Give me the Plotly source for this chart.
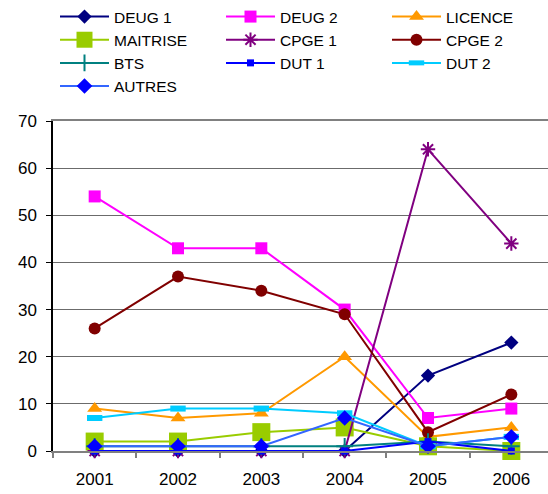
import plotly.graph_objects as go

years = ["2001", "2002", "2003", "2004", "2005", "2006"]

deug1 = [0, 0, 0, 0, 16, 23]
deug2 = [54, 43, 43, 30, 7, 9]
licence = [9, 7, 8, 20, 3, 5]
maitrise = [2, 2, 4, 5, 1, 0]
cpge1 = [0, 0, 0, 0, 64, 44]
cpge2 = [26, 37, 34, 29, 4, 12]
bts = [1, 1, 1, 1, 2, 1]
dut1 = [0, 0, 0, 0, 2, 0]
dut2 = [7, 9, 9, 8, 1, 3]
autres = [1, 1, 1, 7, 1, 3]

y_ticks = [0, 10, 20, 30, 40, 50, 60, 70]

# name, values, line colour, marker symbol, marker colour, marker size, marker outline width
series = [
    ("DEUG 1", deug1, "#000080", "diamond", "#000080", 11, 0),
    ("DEUG 2", deug2, "#FF00FF", "square", "#FF00FF", 12, 0),
    ("LICENCE", licence, "#FF9900", "triangle-up", "#FF9900", 13, 0),
    ("MAITRISE", maitrise, "#99CC00", "square", "#99CC00", 18, 0),
    ("CPGE 1", cpge1, "#800080", "asterisk-open", "#800080", 12, 2),
    ("CPGE 2", cpge2, "#800000", "circle", "#800000", 12, 0),
    ("BTS", bts, "#008080", "cross-thin-open", "#008080", 12, 2),
    ("DUT 1", dut1, "#0000FF", "square", "#0000FF", 7, 0),
    ("DUT 2", dut2, "#00CCFF", "line-ew-open", "#00CCFF", 11, 6),
    ("AUTRES", autres, "#3366FF", "diamond", "#0000FF", 12, 0),
]

fig = go.Figure()
for name, vals, lcol, sym, mcol, msize, mlw in series:
    marker = dict(symbol=sym, color=mcol, size=msize)
    if mlw:
        marker["line"] = dict(color=mcol, width=mlw)
    else:
        marker["line"] = dict(width=0)
    fig.add_trace(go.Scatter(
        x=years, y=vals, name=name, mode="lines+markers",
        line=dict(color=lcol, width=2),
        marker=marker,
        cliponaxis=False,
    ))

fig.update_layout(
    width=548, height=494,
    margin=dict(l=53, r=0, t=121, b=43),
    paper_bgcolor="white", plot_bgcolor="white",
    font=dict(family="Liberation Sans, Arial, sans-serif", color="black"),
    showlegend=True,
    legend=dict(
        orientation="h", xref="container", yref="container",
        x=55 / 548, y=1.0, xanchor="left", yanchor="top",
        entrywidth=102, entrywidthmode="pixels",
        itemwidth=49, traceorder="normal",
        font=dict(size=15.5, color="black"),
        bgcolor="rgba(0,0,0,0)",
        borderwidth=0,
        tracegroupgap=0,
    ),
    xaxis=dict(
        type="category", range=[-0.5, 5.44],
        showgrid=False, showline=True, linecolor="#808080", linewidth=2,
        mirror=True, zeroline=False,
        ticks="outside", tickson="boundaries", ticklen=5, tickcolor="#808080",
        tickwidth=1.5, ticklabelstandoff=12,
        tickfont=dict(size=17, color="black"),
    ),
    yaxis=dict(
        range=[0, 70], tickvals=y_ticks,
        showgrid=True, gridcolor="#6b6b6b", gridwidth=1,
        showline=True, linecolor="black", linewidth=1.5,
        zeroline=False,
        ticks="outside", ticklen=5, tickcolor="black", tickwidth=1,
        ticklabelstandoff=6,
        tickfont=dict(size=17, color="black"),
    ),
)

fig.write_html("out.html")
